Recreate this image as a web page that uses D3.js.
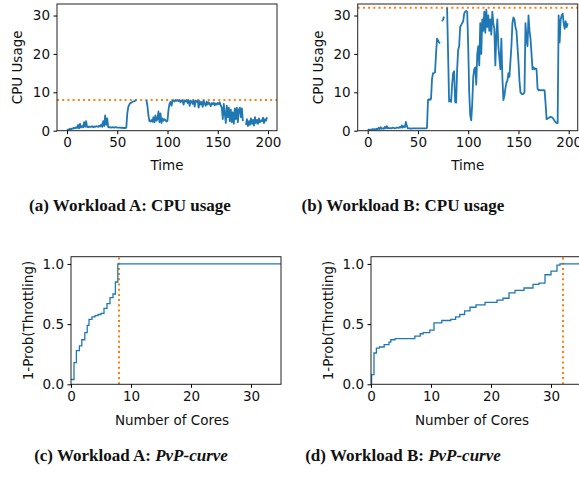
<!DOCTYPE html>
<html>
<head>
<meta charset="utf-8">
<script src="https://cdn.jsdelivr.net/npm/d3@7"></script>
<style>
  body { margin: 0; background: #fff; }
  svg { display: block; }
  .tick text { font-family: "DejaVu Sans", sans-serif; fill: #111; }
  .axisLabel { font-family: "DejaVu Sans", sans-serif; fill: #111; }
  .caption { font-family: "Liberation Serif", serif; font-weight: bold; font-size: 17px; fill: #111; }
</style>
</head>
<body>
<div id="chart"></div>
<script>
// cpu usage per time step, null = no sample
const usageA = [
  0.2,0.3,0.3,0.5,0.4,0.6,0.5,0.8,0.6,0.9,
  0.7,1.5,0.6,1.8,0.8,1.2,0.9,2.2,1.0,2.5,
  1.0,0.9,1.1,1.0,1.0,1.2,0.9,1.1,1.0,1.2,
  1.1,1.0,1.3,1.1,1.6,1.0,2.5,1.2,4.0,1.5,
  3.2,0.9,0.9,0.9,0.8,0.9,0.9,0.8,0.9,0.9,
  0.8,0.8,0.8,0.8,0.7,0.8,0.7,0.7,0.7,0.8,
  4.5,6.2,6.8,7.2,7.3,7.5,7.6,7.7,7.8,8.0,
  null,null,null,null,null,null,null,null,null,
  8.0,6.5,4.0,2.5,2.4,2.8,2.3,3.5,2.2,4.0,2.6,
  3.0,5.0,2.2,4.5,2.0,3.2,2.6,3.0,2.8,2.4,
  2.6,5.5,7.0,7.5,6.5,7.8,7.9,7.6,8.0,7.8,
  7.9,7.7,8.0,7.4,7.9,7.8,6.8,7.9,7.6,8.0,
  7.2,7.9,6.5,7.8,7.6,7.0,7.9,6.3,7.8,7.5,
  7.9,6.0,7.7,6.8,7.5,6.2,7.8,7.0,6.5,7.6,
  6.8,7.4,7.0,6.4,7.2,6.9,7.3,6.6,7.1,6.8,
  7.2,6.9,7.4,6.5,6.0,3.0,7.0,4.5,2.0,6.5,
  3.5,6.0,2.5,5.5,2.2,4.8,1.8,5.8,3.0,6.0,
  2.2,5.5,6.0,3.5,5.8,2.5,
  null,null,
  1.5,3.0,1.2,2.5,1.5,3.2,1.8,2.8,1.3,3.5,2.0,2.8,
  1.8,3.2,2.2,2.7,2.5,3.4,2.0,3.0,2.6,3.5
];

const usageB = [
  0.2,0.3,0.2,0.3,0.3,0.4,0.3,0.4,0.3,0.5,
  0.4,0.8,0.4,0.9,0.5,0.6,0.5,1.0,0.6,1.2,
  0.6,0.7,0.6,0.7,0.6,0.8,0.7,0.6,0.7,0.8,
  0.8,0.7,1.0,0.8,1.4,0.8,1.2,0.9,2.3,1.2,
  0.6,0.6,0.6,0.5,0.6,0.6,0.6,0.6,0.6,0.6,
  0.6,0.6,0.6,0.6,0.6,0.6,0.6,0.6,0.6,0.7,
  8.0,8.2,8.0,8.3,13.5,15.0,15.0,15.2,20.0,24.0,
  23.5,23.0,22.8,
  null,
  28.5,29.0,29.7,
  null,null,
  32.0,20.0,7.6,8.0,7.5,12.0,15.0,15.5,7.5,7.3,16.0,
  21.0,22.0,27.0,27.5,28.0,28.5,30.5,31.0,31.2,31.0,
  22.0,10.0,4.0,2.7,7.0,14.0,16.0,16.5,12.0,20.0,
  22.0,17.0,28.0,20.0,29.0,26.0,31.0,25.5,31.5,27.0,
  30.0,26.0,29.0,25.0,31.0,28.0,26.5,17.0,25.0,29.0,
  22.0,19.0,16.0,24.0,14.0,8.0,9.0,11.0,12.5,13.0,
  15.0,14.0,18.0,22.0,28.0,29.5,29.0,27.0,26.0,22.0,
  18.0,13.0,10.0,9.6,9.5,9.6,10.0,28.0,24.0,22.0,
  30.0,26.0,24.0,20.0,16.0,16.5,16.0,16.2,16.0,11.0,
  10.5,10.6,10.5,10.6,10.5,10.6,10.5,7.0,3.0,3.2,
  3.3,3.5,3.6,3.5,3.4,3.0,2.5,2.2,2.0,2.0,
  30.0,23.0,29.0,30.0,30.5,28.0,26.5,28.5,27.0,28.0
];

// pvp curves: cores -> 1-prob(throttling), step after
const coresA = [0, 0.5, 0.9, 1.4, 1.8, 2.3, 2.7, 3.0, 3.5, 4.0, 4.5, 5.0, 5.5, 6.0, 6.5, 7.0, 7.4, 7.8, 35];
const probA  = [0.04, 0.18, 0.28, 0.32, 0.37, 0.43, 0.49, 0.54, 0.56, 0.57, 0.58, 0.59, 0.63, 0.67, 0.72, 0.75, 0.85, 1.0, 1.0];

const coresB = [0, 0.1, 0.5, 0.9, 1.4, 2.2, 3.0, 3.3, 4.0, 7.3, 8.2, 8.7, 9.8, 10.5, 11.8, 13.3, 14.1, 14.8, 15.6,
  16.5, 17.5, 19.0, 21.0, 22.0, 23.0, 24.0, 25.5, 27.0, 28.0, 29.0, 30.0, 31.0, 31.5, 35];
const probB  = [0.0, 0.08, 0.26, 0.30, 0.31, 0.33, 0.35, 0.37, 0.38, 0.40, 0.42, 0.43, 0.45, 0.51, 0.53, 0.54, 0.56, 0.58, 0.61,
  0.64, 0.66, 0.68, 0.70, 0.715, 0.76, 0.78, 0.80, 0.83, 0.84, 0.91, 0.94, 0.99, 1.0, 1.0];

const limitA = 8;
const limitB = 32;
const usageTicks = [0, 10, 20, 30];
const timeTicks = [0, 50, 100, 150, 200];
const coreTicks = [0, 10, 20, 30];
const probTicks = [0, 0.5, 1.0];

const captions = [
  {x: 130, y: 211, parts: [{t: "(a) Workload A: CPU usage"}]},
  {x: 403, y: 211, parts: [{t: "(b) Workload B: CPU usage"}]},
  {x: 131, y: 461, parts: [{t: "(c) Workload A: "}, {t: "PvP-curve", i: true}]},
  {x: 403, y: 461, parts: [{t: "(d) Workload B: "}, {t: "PvP-curve", i: true}]}
];

const width = 579, height = 483;
const blue = "#1f77b4", orange = "#ff7f0e";

const svg = d3.select("#chart")
  .append("svg")
  .attr("width", width)
  .attr("height", height);

let clipId = 0;

function panel(box, xDomain, yDomain, xTicks, yTicks, yFormat, xLabel, yLabel, xLabelX, xLabelY, yLabelX) {
  const x = d3.scaleLinear().domain(xDomain).range([box.left, box.right]);
  const y = d3.scaleLinear().domain(yDomain).range([box.bottom, box.top]);

  const id = "clip" + (clipId++);
  svg.append("clipPath").attr("id", id)
    .append("rect")
    .attr("x", box.left).attr("y", box.top)
    .attr("width", box.right - box.left).attr("height", box.bottom - box.top);

  const g = svg.append("g");
  const plot = g.append("g").attr("clip-path", `url(#${id})`);

  // frame
  g.append("rect")
    .attr("x", box.left).attr("y", box.top)
    .attr("width", box.right - box.left).attr("height", box.bottom - box.top)
    .attr("fill", "none").attr("stroke", "#222").attr("stroke-width", 1);

  g.append("g")
    .attr("transform", `translate(0,${box.bottom})`)
    .call(d3.axisBottom(x).tickValues(xTicks).tickSize(3.5).tickPadding(3.5))
    .call(a => a.select(".domain").remove())
    .call(a => a.selectAll("text").attr("font-size", 13.5).attr("font-family", null));

  g.append("g")
    .attr("transform", `translate(${box.left},0)`)
    .call(d3.axisLeft(y).tickValues(yTicks).tickFormat(yFormat).tickSize(3.5).tickPadding(3.5))
    .call(a => a.select(".domain").remove())
    .call(a => a.selectAll("text").attr("font-size", 13.5).attr("font-family", null));

  g.append("text")
    .attr("class", "axisLabel")
    .attr("x", xLabelX)
    .attr("y", xLabelY)
    .attr("text-anchor", "middle")
    .attr("font-size", 13.5)
    .text(xLabel);

  g.append("text")
    .attr("class", "axisLabel")
    .attr("transform", "rotate(-90)")
    .attr("x", -(box.top + box.bottom) / 2)
    .attr("y", yLabelX)
    .attr("text-anchor", "middle")
    .attr("font-size", 13.5)
    .text(yLabel);

  return {x, y, plot};
}

function usagePanel(box, data, limit) {
  const p = panel(box, [-9.95, 208.95], [0, 33], timeTicks, usageTicks, d3.format("d"),
    "Time", "CPU Usage", (box.left + box.right) / 2, 170, box.left - 35);

  p.plot.append("line")
    .attr("x1", box.left).attr("x2", box.right)
    .attr("y1", p.y(limit)).attr("y2", p.y(limit))
    .attr("stroke", orange).attr("stroke-width", 2)
    .attr("stroke-dasharray", "2,3.2");

  const line = d3.line()
    .defined(d => d != null)
    .x((d, i) => p.x(i))
    .y(d => p.y(d));

  p.plot.append("path")
    .datum(data)
    .attr("fill", "none")
    .attr("stroke", blue)
    .attr("stroke-width", 1.8)
    .attr("stroke-linejoin", "round")
    .attr("d", line);
}

function pvpPanel(box, cores, prob, limit) {
  const p = panel(box, [0, 35], [0, 1.06], coreTicks, probTicks, d3.format(".1f"),
    "Number of Cores", "1-Prob(Throttling)", (box.left + box.right) / 2 - 4, 425, box.left - 38);

  p.plot.append("line")
    .attr("x1", p.x(limit)).attr("x2", p.x(limit))
    .attr("y1", box.bottom).attr("y2", box.top)
    .attr("stroke", orange).attr("stroke-width", 2)
    .attr("stroke-dasharray", "2,3.2");

  const line = d3.line()
    .curve(d3.curveStepAfter)
    .x((d, i) => p.x(cores[i]))
    .y(d => p.y(d));

  p.plot.append("path")
    .datum(prob)
    .attr("fill", "none")
    .attr("stroke", blue)
    .attr("stroke-width", 1.3)
    .attr("d", line);
}

usagePanel({left: 57, right: 277, top: 4, bottom: 130.7}, usageA, limitA);
usagePanel({left: 357.7, right: 577.7, top: 4, bottom: 130.7}, usageB, limitB);
pvpPanel({left: 71, right: 281, top: 256.7, bottom: 384.3}, coresA, probA, limitA);
pvpPanel({left: 371, right: 581, top: 256.7, bottom: 384.3}, coresB, probB, limitB);

// captions
captions.forEach(c => {
  const t = svg.append("text")
    .attr("class", "caption")
    .attr("x", c.x).attr("y", c.y)
    .attr("text-anchor", "middle");
  c.parts.forEach(part => {
    t.append("tspan")
      .attr("font-style", part.i ? "italic" : null)
      .text(part.t);
  });
});
</script>
</body>
</html>
